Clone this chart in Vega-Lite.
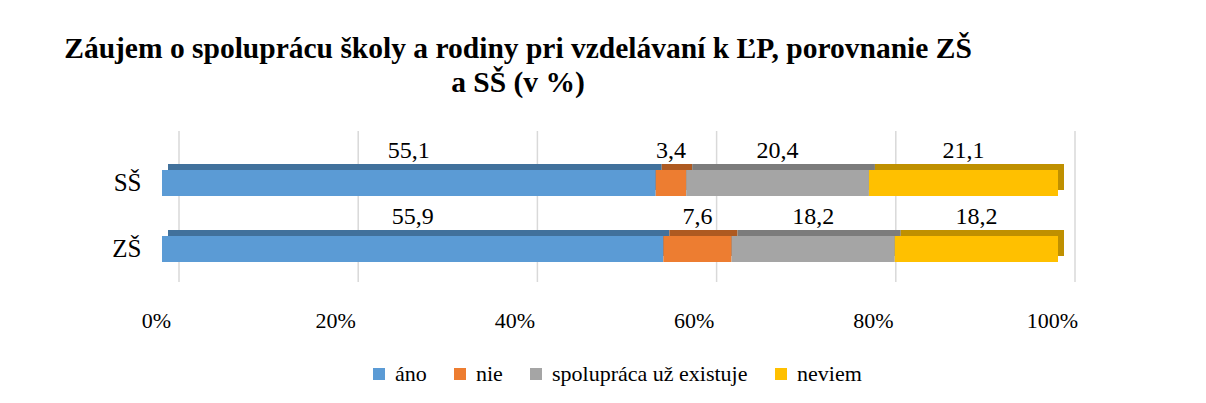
{
  "$schema": "https://vega.github.io/schema/vega-lite/v6.json",
  "width": 896,
  "height": 151,
  "autosize": {"type": "none"},
  "padding": {"left": 162, "top": 131, "right": 148, "bottom": 121},
  "background": "white",
  "title": {
    "text": ["Záujem o spoluprácu školy a rodiny pri vzdelávaní k ĽP, porovnanie ZŠ", "a SŠ (v %)"],
    "font": "Liberation Serif",
    "fontSize": 29.5,
    "fontWeight": "bold",
    "color": "#000000",
    "anchor": "middle",
    "dx": -92,
    "lineHeight": 34,
    "offset": 32
  },
  "layer": [
    {
      "data": {"values": [{"v": 0}, {"v": 0.2}, {"v": 0.4}, {"v": 0.6}, {"v": 0.8}, {"v": 1}]},
      "mark": {"type": "rule", "color": "#d9d9d9", "strokeWidth": 1.5, "xOffset": 17},
      "encoding": {
        "x": {
          "field": "v",
          "type": "quantitative",
          "scale": {"domain": [0, 1]},
          "axis": {"title": null, "format": "%", "values": [0, 0.2, 0.4, 0.6, 0.8, 1], "domain": false, "ticks": false, "labelFlush": false, "labelOffset": -6, "labelFont": "Liberation Serif", "labelFontSize": 22, "labelColor": "#000000", "labelPadding": 28, "grid": false}
        }
      }
    },
    {
      "data": {
        "values": [
          {"skola": "SŠ", "odpoved": "áno", "hodnota": 55.1, "poradie": 1},
          {"skola": "SŠ", "odpoved": "nie", "hodnota": 3.4, "poradie": 2},
          {"skola": "SŠ", "odpoved": "spolupráca už existuje", "hodnota": 20.4, "poradie": 3},
          {"skola": "SŠ", "odpoved": "neviem", "hodnota": 21.1, "poradie": 4},
          {"skola": "ZŠ", "odpoved": "áno", "hodnota": 55.9, "poradie": 1},
          {"skola": "ZŠ", "odpoved": "nie", "hodnota": 7.6, "poradie": 2},
          {"skola": "ZŠ", "odpoved": "spolupráca už existuje", "hodnota": 18.2, "poradie": 3},
          {"skola": "ZŠ", "odpoved": "neviem", "hodnota": 18.2, "poradie": 4}
        ]
      },
      "transform": [
        {"stack": "hodnota", "groupby": ["skola"], "sort": [{"field": "poradie", "order": "ascending"}], "as": ["x0", "x1"], "offset": "normalize"},
        {"calculate": "(datum.x0 + datum.x1) / 2", "as": "xm"}
      ],
      "encoding": {
        "y": {
          "field": "skola",
          "type": "nominal",
          "scale": {"domain": ["SŠ", "ZŠ"], "paddingInner": 0, "paddingOuter": 0.144, "align": 1},
          "axis": {"title": null, "domain": false, "ticks": false, "labelFont": "Liberation Serif", "labelFontSize": 25, "labelColor": "#000000", "labelPadding": 21, "grid": false}
        }
      },
      "layer": [
        {
          "mark": {"type": "bar", "height": 26, "xOffset": 6, "x2Offset": 6, "yOffset": -6, "y2Offset": -6},
          "encoding": {
            "x": {"field": "x0", "type": "quantitative"},
            "x2": {"field": "x1"},
            "color": {
              "field": "odpoved",
              "type": "nominal",
              "scale": {"domain": ["áno", "nie", "spolupráca už existuje", "neviem"], "range": ["#41719c", "#ae5a21", "#7c7c7c", "#bf9000"]},
              "legend": null
            }
          }
        },
        {
          "mark": {"type": "bar", "height": 26},
          "encoding": {
            "x": {"field": "x0", "type": "quantitative"},
            "x2": {"field": "x1"},
            "color": {
              "field": "odpoved",
              "type": "nominal",
              "scale": {"domain": ["áno", "nie", "spolupráca už existuje", "neviem"], "range": ["#5b9bd5", "#ed7d31", "#a5a5a5", "#ffc000"]},
              "legend": {"title": null, "orient": "none", "legendX": 206, "legendY": 232, "direction": "horizontal", "symbolType": "square", "symbolSize": 144, "symbolStrokeWidth": 0, "labelFont": "Liberation Serif", "labelFontSize": 22, "labelColor": "#000000", "labelOffset": 5, "columnPadding": 22, "labelLimit": 400}
            }
          }
        },
        {
          "mark": {"type": "text", "font": "Liberation Serif", "fontSize": 24, "color": "#000000", "baseline": "middle", "dy": -32},
          "encoding": {
            "x": {"field": "xm", "type": "quantitative"},
            "text": {"field": "hodnota", "type": "quantitative", "format": ".1f", "formatType": "number"}
          }
        }
      ],
      "resolve": {"scale": {"color": "independent"}}
    }
  ],
  "resolve": {"scale": {"color": "independent"}},
  "config": {"view": {"stroke": null}, "locale": {"number": {"decimal": ",", "thousands": " ", "grouping": [3], "currency": ["", " €"]}}}
}
